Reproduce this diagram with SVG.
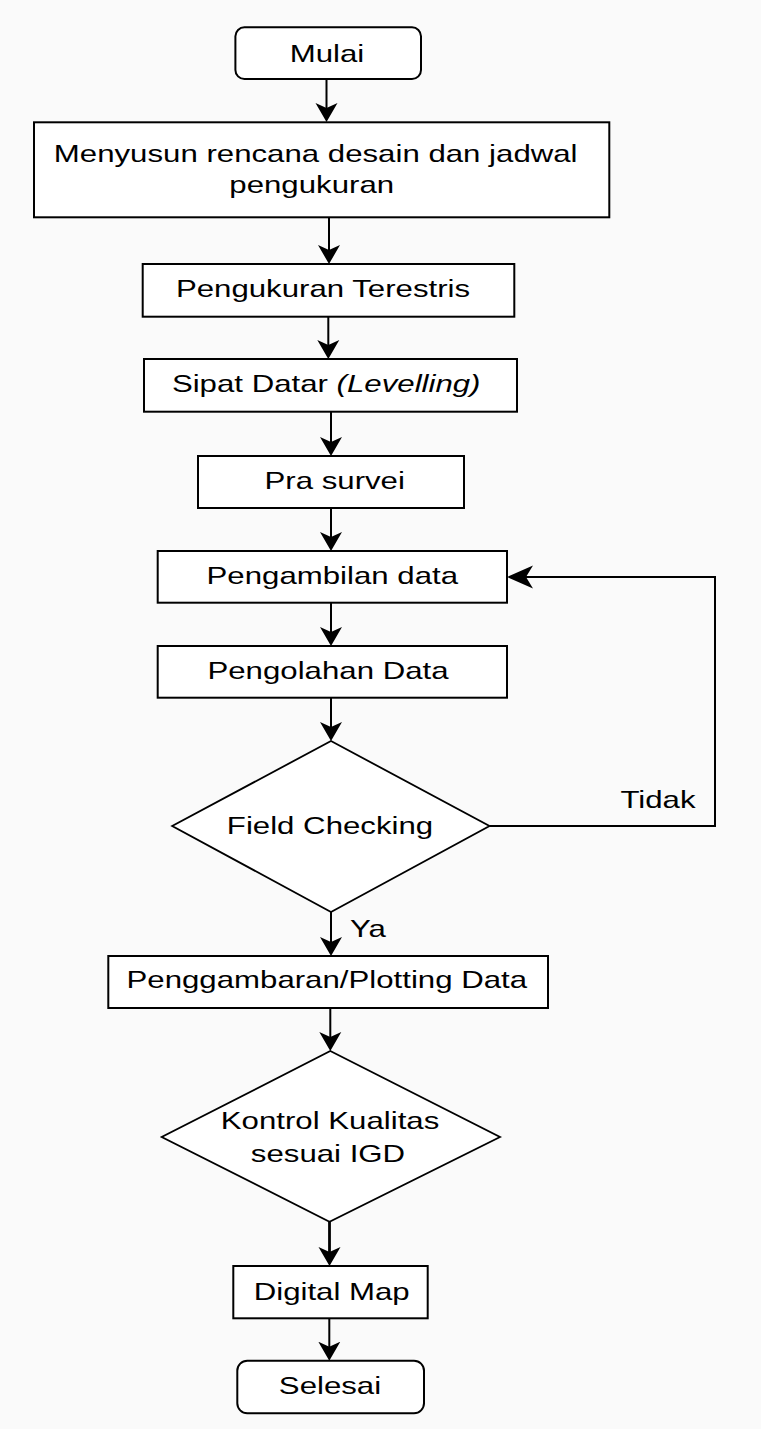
<svg xmlns="http://www.w3.org/2000/svg" width="761" height="1429" viewBox="0 0 761 1429">
<style>
.shape{fill:#ffffff;stroke:#000000;stroke-width:2}
.dia{fill:#ffffff;stroke:#000000;stroke-width:1.8}
.edge{fill:none;stroke:#000000;stroke-width:2}
.lbl{font-family:"Liberation Sans",Arial,Helvetica,sans-serif;font-size:24px;fill:#000000;text-anchor:middle}
</style>
<defs>
<marker id="av" markerUnits="userSpaceOnUse" viewBox="0 -12 28 24" markerWidth="28" markerHeight="24" refX="13" refY="0" orient="auto">
<path d="M0,-11 L19,0 L0,11 L5,0 Z" fill="#000000"/>
</marker>
<marker id="ah" markerUnits="userSpaceOnUse" viewBox="0 -12 28 24" markerWidth="28" markerHeight="24" refX="20" refY="0" orient="auto">
<path d="M0,-11.5 L26,0 L0,11.5 L7,0 Z" fill="#000000"/>
</marker>
</defs>
<rect x="0" y="0" width="761" height="1429" fill="#fafafa"/>

<g id="connectors">
<path class="edge" d="M326.5,79 L326.5,116" marker-end="url(#av)"/>
<path class="edge" d="M329,217.3 L329,258" marker-end="url(#av)"/>
<path class="edge" d="M328.3,316.7 L328.3,353" marker-end="url(#av)"/>
<path class="edge" d="M331,411.7 L331,450" marker-end="url(#av)"/>
<path class="edge" d="M331,508 L331,545" marker-end="url(#av)"/>
<path class="edge" d="M331,602.7 L331,640" marker-end="url(#av)"/>
<path class="edge" d="M331,697.7 L331,735" marker-end="url(#av)"/>
<path class="edge" d="M489.5,826 L715,826 L715,577 L513,577" marker-end="url(#ah)"/>
<path class="edge" d="M331,912 L331,950" marker-end="url(#av)"/>
<path class="edge" d="M330.3,1008 L330.3,1045" marker-end="url(#av)"/>
<path class="edge" style="stroke-width:2.8" d="M329.5,1221.7 L329.5,1260" marker-end="url(#av)"/>
<path class="edge" d="M329.3,1318.3 L329.3,1354.7" marker-end="url(#av)"/>
<text class="lbl" transform="translate(658,808.3) scale(1.3,1)">Tidak</text>
<text class="lbl" transform="translate(368,937) scale(1.3,1)">Ya</text>
</g>

<g id="mulai">
<rect class="shape" x="235.4" y="27.3" width="185.6" height="51.7" rx="9"/>
<text class="lbl" transform="translate(327,61.7) scale(1.3,1)">Mulai</text>
</g>

<g id="menyusun">
<rect class="shape" x="34" y="122.3" width="575.3" height="95"/>
<text class="lbl" transform="translate(315.7,161.7) scale(1.3,1)">Menyusun rencana desain dan jadwal</text>
<text class="lbl" transform="translate(311.7,193.3) scale(1.3,1)">pengukuran</text>
</g>

<g id="terestris">
<rect class="shape" x="142.7" y="264" width="371.6" height="52.7"/>
<text class="lbl" transform="translate(323,296.7) scale(1.3,1)">Pengukuran Terestris</text>
</g>

<g id="sipat">
<rect class="shape" x="144" y="359" width="373" height="52.7"/>
<text class="lbl" transform="translate(326.2,392.3) scale(1.3,1)">Sipat Datar <tspan font-style="italic">(Levelling)</tspan></text>
</g>

<g id="prasurvei">
<rect class="shape" x="198" y="456" width="266" height="52"/>
<text class="lbl" transform="translate(334.7,489.3) scale(1.3,1)">Pra survei</text>
</g>

<g id="pengambilan">
<rect class="shape" x="157.7" y="551" width="349.3" height="51.7"/>
<text class="lbl" transform="translate(332.3,584.3) scale(1.3,1)">Pengambilan data</text>
</g>

<g id="pengolahan">
<rect class="shape" x="157.7" y="646" width="349.3" height="51.7"/>
<text class="lbl" transform="translate(328,679) scale(1.3,1)">Pengolahan Data</text>
</g>

<g id="fieldchecking">
<polygon class="dia" points="331,741 489.5,826 331,912 172.2,826"/>
<text class="lbl" transform="translate(330,834.3) scale(1.3,1)">Field Checking</text>
</g>

<g id="penggambaran">
<rect class="shape" x="108.3" y="956" width="439.7" height="52"/>
<text class="lbl" transform="translate(326.8,987.7) scale(1.3,1)">Penggambaran/Plotting Data</text>
</g>

<g id="kontrol">
<polygon class="dia" points="330.3,1051 500,1137 329.5,1221.7 161.7,1137"/>
<text class="lbl" transform="translate(330,1129.3) scale(1.3,1)">Kontrol Kualitas</text>
<text class="lbl" transform="translate(328,1161.7) scale(1.3,1)">sesuai IGD</text>
</g>

<g id="digitalmap">
<rect class="shape" x="233.3" y="1266" width="194.4" height="52.3"/>
<text class="lbl" transform="translate(331.7,1300) scale(1.3,1)">Digital Map</text>
</g>

<g id="selesai">
<rect class="shape" x="237.3" y="1360.7" width="186.7" height="52.6" rx="10"/>
<text class="lbl" transform="translate(330,1394.3) scale(1.3,1)">Selesai</text>
</g>
</svg>
